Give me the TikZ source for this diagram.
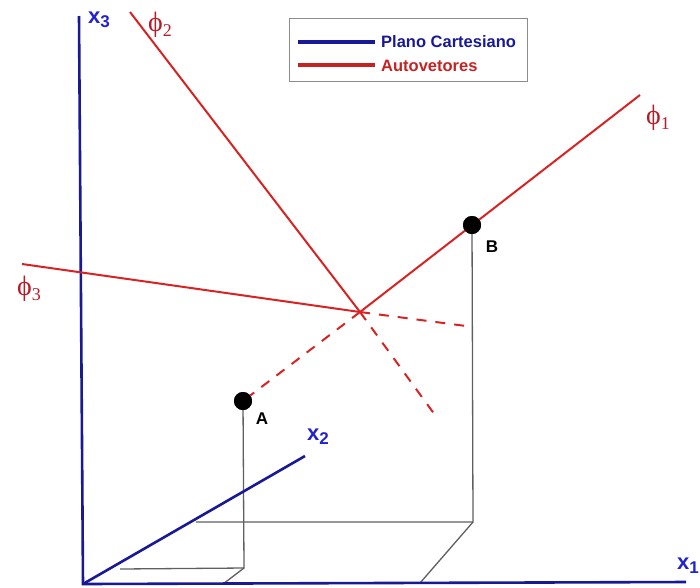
\documentclass[tikz,border=0pt]{standalone}
\usepackage{fontspec}
\setmainfont{Liberation Sans}
\newfontfamily\grk{Liberation Serif}
\definecolor{axblue}{RGB}{25,25,150}
\definecolor{lblblue}{RGB}{35,35,205}
\definecolor{eigred}{RGB}{215,35,35}
\definecolor{phired}{RGB}{180,30,40}
\definecolor{legred}{RGB}{195,35,35}
\definecolor{projgray}{RGB}{95,95,95}
\newcommand{\axl}[2]{{\bfseries\fontsize{22}{24}\selectfont #1\raisebox{-4pt}{\fontsize{17}{18}\selectfont #2}}}
\newcommand{\phl}[1]{{\grk\fontsize{28}{30}\selectfont ϕ\raisebox{-5pt}{\fontsize{18}{19}\selectfont #1}}}
\begin{document}
\begin{tikzpicture}[x=1pt,y=-1pt,
  axisline/.style={draw=axblue,line width=2.6pt},
  eig/.style={draw=eigred,line width=2pt},
  eigdash/.style={draw=eigred,line width=2pt,dash pattern=on 10pt off 9pt},
  projline/.style={draw=projgray,line width=1.3pt},
  dot/.style={circle,fill=black,inner sep=0pt,minimum size=18pt},
  axlab/.style={text=lblblue,inner sep=0pt},
  phlab/.style={text=phired,inner sep=0pt},
  ptlab/.style={font=\bfseries\fontsize{17}{19}\selectfont,inner sep=0pt},
  legtext/.style={font=\bfseries\fontsize{16.5}{18}\selectfont,inner sep=0pt,anchor=west}]
\useasboundingbox (0,0) rectangle (700,587);
% coordinates
\coordinate (O) at (83,584);
\coordinate (X3) at (79,16);
\coordinate (X1) at (686,582);
\coordinate (X2) at (305,456);
\coordinate (C) at (360,312);
\coordinate (P1) at (640,95);
\coordinate (P2) at (130,12);
\coordinate (P2d) at (435,415);
\coordinate (P3) at (22,264);
\coordinate (P3d) at (466,326);
\coordinate (FA) at (244,568);
\coordinate (FA2) at (120,569);
\coordinate (FA1) at (223,584);
\coordinate (FB) at (473,522);
\coordinate (FB2) at (196,522);
\coordinate (FB1) at (420,583);
\node[dot] (A) at (243,401) {};
\node[dot] (B) at (472,225) {};
% projections
\draw[projline] (A.center) -- (FA) -- (FA2);
\draw[projline] (FA) -- (FA1);
\draw[projline] (B.center) -- (FB) -- (FB2);
\draw[projline] (FB) -- (FB1);
% axes
\draw[axisline] (X3) -- (O) -- (X1);
\draw[axisline] (O) -- (X2);
% eigenvectors
\draw[eig] (C) -- (P1);
\draw[eig] (P2) -- (C);
\draw[eig] (P3) -- (C);
\draw[eigdash] (C) -- (A);
\draw[eigdash] (C) -- (P2d);
\draw[eigdash] (C) -- (P3d);
\node[dot] at (A) {};
\node[dot] at (B) {};
% labels
\node[axlab] (lx3) at (99,20) {\axl{x}{3}};
\node[axlab] (lx2) at (318,437) {\axl{x}{2}};
\node[axlab] (lx1) at (688,566) {\axl{x}{1}};
\node[phlab] (lp1) at (658,118) {\phl{1}};
\node[phlab] (lp2) at (160,25) {\phl{2}};
\node[phlab] (lp3) at (29,289) {\phl{3}};
\node[ptlab] (la) at (262,419) {A};
\node[ptlab] (lb) at (492,247) {B};
% legend
\node[draw=black!45,line width=0.9pt,anchor=north west,minimum width=238pt,minimum height=63pt,inner sep=0pt] (leg) at (289,18) {};
\coordinate (lb1) at (298,42);
\coordinate (le1) at (375,42);
\coordinate (lb2) at (298,65);
\coordinate (le2) at (375,65);
\draw[draw=axblue,line width=3.4pt] (lb1) -- (le1);
\draw[draw=legred,line width=3.4pt] (lb2) -- (le2);
\node[legtext,text=axblue] (t1) at (381,42) {Plano Cartesiano};
\node[legtext,text=legred] (t2) at (381,66) {Autovetores};
\end{tikzpicture}
\end{document}
